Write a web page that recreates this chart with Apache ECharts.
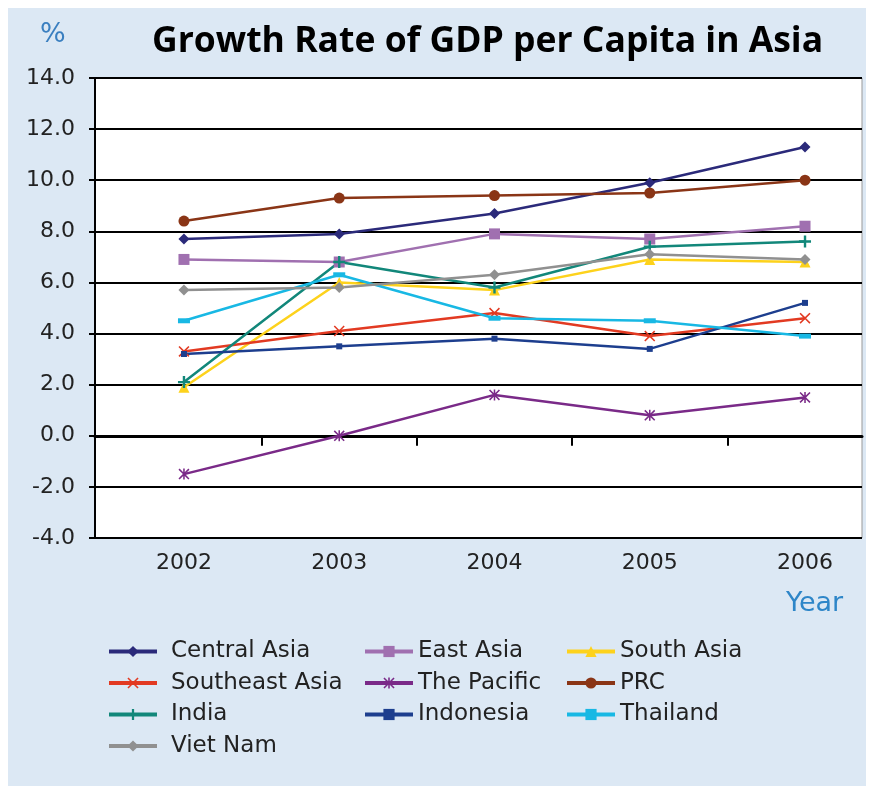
<!DOCTYPE html>
<html>
<head>
    <meta charset="UTF-8">
    <script src="https://cdn.jsdelivr.net/npm/echarts@6/dist/echarts.min.js"></script>
    <title>Growth Rate of GDP per Capita in Asia</title>
    <style>
        html, body { margin: 0; padding: 0; background: #fff; }
        #bg { position: absolute; left: 8px; top: 8px; width: 858px; height: 778px; background: #dce8f4; }
        #box { position: absolute; left: 0; top: 0; width: 873px; height: 786px; }
    </style>
</head>
<body>
    <div id="bg"></div>
    <div id="box"></div>
    <script>
        // 数据
        var years = [2002, 2003, 2004, 2005, 2006]
        var yTicks = [-4, -2, 0, 2, 4, 6, 8, 10, 12, 14]
        var centralAsia = [7.7, 7.9, 8.7, 9.9, 11.3]
        var eastAsia = [6.9, 6.8, 7.9, 7.7, 8.2]
        var southAsia = [1.9, 6.0, 5.7, 6.9, 6.8]
        var southeastAsia = [3.3, 4.1, 4.8, 3.9, 4.6]
        var pacific = [-1.5, 0.0, 1.6, 0.8, 1.5]
        var prc = [8.4, 9.3, 9.4, 9.5, 10.0]
        var india = [2.1, 6.8, 5.8, 7.4, 7.6]
        var indonesia = [3.2, 3.5, 3.8, 3.4, 5.2]
        var thailand = [4.5, 6.3, 4.6, 4.5, 3.9]
        var vietNam = [5.7, 5.8, 6.3, 7.1, 6.9]

        var FONT = 'DejaVu Sans'
        var plusPath = 'path://M4,0H6V4H10V6H6V10H4V6H0V4H4Z'
        var crossPath = 'path://M0,1L1,0L5,4L9,0L10,1L6,5L10,9L9,10L5,6L1,10L0,9L4,5Z'
        var starPath = 'path://M0,1L1,0L5,4L9,0L10,1L6,5L10,9L9,10L5,6L1,10L0,9L4,5ZM4.3,0H5.7V10H4.3Z'

        function pairs(arr) {
            return years.map(function (y, i) { return [y, arr[i]] })
        }

        function line(name, arr, color, symbol, size) {
            return {
                name: name,
                type: 'line',
                xAxisIndex: 0,
                data: pairs(arr),
                symbol: symbol,
                symbolSize: size,
                showSymbol: true,
                lineStyle: { color: color, width: 2.5 },
                itemStyle: { color: color },
                emphasis: { disabled: true }
            }
        }

        var mychart = echarts.init(document.getElementById('box'), null, { renderer: 'canvas' })

        var legendBase = {
            orient: 'vertical',
            top: 639,
            padding: 0,
            itemWidth: 48,
            itemHeight: 14,
            itemGap: 6.5,
            lineStyle: { width: 4 },
            textStyle: { fontFamily: FONT, fontSize: 23, color: '#222', lineHeight: 25 },
            selectedMode: false
        }

        var option = {
            animation: false,
            textStyle: { fontFamily: FONT },
            title: {
                text: 'Growth Rate of GDP per Capita in Asia',
                left: 147,
                top: 19,
                textStyle: { fontFamily: 'Open Sans', fontWeight: 'bold', fontSize: 35.5, color: '#000' }
            },
            graphic: [
                { type: 'text', left: 40, top: 21, style: { text: '%', fontFamily: FONT, fontSize: 27, fill: '#3a7fc0' } },
                { type: 'text', left: 786, top: 590, style: { text: 'Year', fontFamily: FONT, fontSize: 27, fill: '#2e86c8' } }
            ],
            legend: [
                Object.assign({}, legendBase, {
                    left: 107,
                    data: ['Central Asia', 'Southeast Asia', 'India', 'Viet Nam'],
                    textStyle: Object.assign({}, legendBase.textStyle, { padding: [0, 0, 0, 9] })
                }),
                Object.assign({}, legendBase, { left: 363, data: ['East Asia', 'The Pacific', 'Indonesia'] }),
                Object.assign({}, legendBase, { left: 565, data: ['South Asia', 'PRC', 'Thailand'] })
            ],
            grid: {
                left: 95,
                right: 11,
                top: 78,
                bottom: 248,
                show: true,
                backgroundColor: '#fff',
                borderColor: '#999',
                borderWidth: 1
            },
            xAxis: [{
                type: 'value',
                position: 'bottom',
                min: 2001.427,
                max: 2006.367,
                axisLine: { show: false, onZero: false },
                axisTick: { show: false },
                splitLine: { show: false },
                axisLabel: {
                    customValues: years,
                    fontFamily: FONT,
                    fontSize: 22,
                    color: '#222',
                    margin: 14,
                    formatter: function (v) { return String(v) }
                }
            }, {
                type: 'value',
                position: 'bottom',
                min: 2001.427,
                max: 2006.367,
                axisLine: { show: true, onZero: true, lineStyle: { color: '#000', width: 3 } },
                axisTick: { show: true, customValues: [2002.5, 2003.5, 2004.5, 2005.5], length: 10, lineStyle: { color: '#000', width: 2 } },
                axisLabel: { show: false },
                splitLine: { show: false }
            }],
            yAxis: {
                type: 'value',
                min: yTicks[0],
                max: yTicks[yTicks.length - 1],
                interval: 2,
                axisLine: { show: true, lineStyle: { color: '#000', width: 2 } },
                axisTick: { show: true, length: 6, lineStyle: { color: '#000', width: 2 } },
                splitLine: { show: true, lineStyle: { color: '#000', width: 2 } },
                axisLabel: {
                    fontFamily: FONT,
                    fontSize: 22,
                    color: '#222',
                    margin: 20,
                    formatter: function (v) { return v.toFixed(1) }
                }
            },
            series: [
                line('Central Asia', centralAsia, '#2b2a7a', 'diamond', 11),
                line('East Asia', eastAsia, '#a070b0', 'rect', 11),
                line('South Asia', southAsia, '#fdd21c', 'triangle', 11),
                line('Southeast Asia', southeastAsia, '#e23a22', crossPath, 11),
                line('The Pacific', pacific, '#7a2a88', starPath, 11),
                line('PRC', prc, '#8a3516', 'circle', 11),
                line('India', india, '#12877a', plusPath, 12),
                line('Indonesia', indonesia, '#1d3e8e', 'rect', 6),
                line('Thailand', thailand, '#18b8e4', 'rect', [12, 5]),
                line('Viet Nam', vietNam, '#909090', 'diamond', 11)
            ]
        }

        mychart.setOption(option)
    </script>
</body>
</html>
